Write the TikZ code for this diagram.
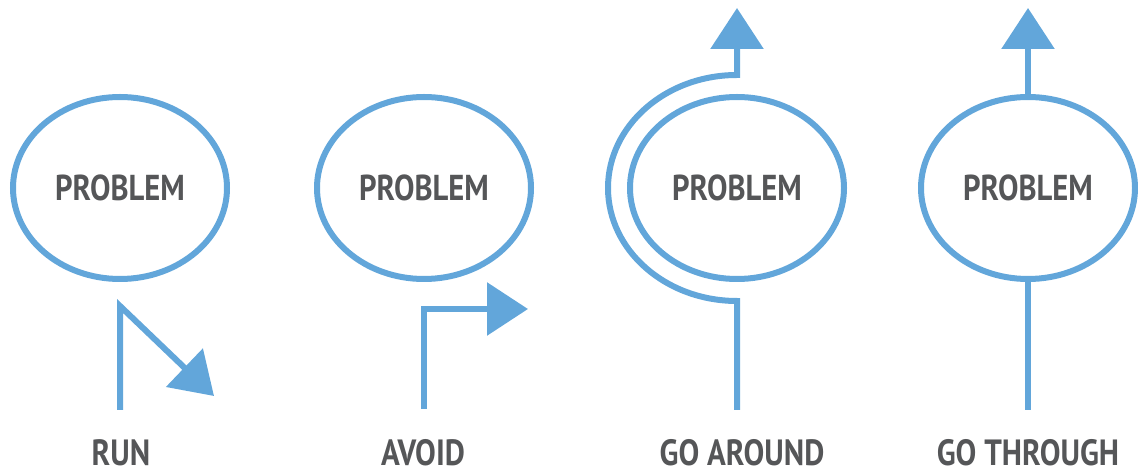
\documentclass[tikz,border=0pt]{standalone}
\usepackage{fontspec}
\setmainfont{PT Sans}[FakeStretch=0.85]
\usetikzlibrary{arrows.meta,shapes.geometric,positioning}
\definecolor{pblue}{RGB}{98,166,218}
\definecolor{pgray}{RGB}{85,86,88}
\tikzset{
    problem/.style={
        ellipse,
        draw=pblue,
        line width=6pt,
        outer sep=0pt,
        inner sep=0pt,
        minimum width=214pt,
        minimum height=182pt,
        text=pgray,
        font=\bfseries\fontsize{36}{36}\selectfont
    },
    % blue line with a triangle head
    bluearrow/.style={
        line width=6pt,
        pblue,
        -{Triangle[length=41pt, width=52pt]}
    },
    blueline/.style={
        line width=6pt,
        pblue
    },
    tag/.style={
        anchor=base,
        inner sep=0pt,
        text depth=0pt,
        text=pgray,
        font=\bfseries\fontsize{36.5}{36.5}\selectfont
    }
}

\begin{document}
\begin{tikzpicture}[x=1pt,y=1pt]
	\useasboundingbox (0,0) rectangle (1138,471);

	% ===================== RUN =====================
	\node[problem] (p1) at (120,283) {PROBLEM};
	\path
	(120,61) coordinate (r0)
	(120,165) coordinate (r1)
	(214,75) coordinate (r2);
	\draw[bluearrow] (r0) -- (r1) -- (r2);
	\node[tag] (t1) at (121,5) {RUN};

	% ===================== AVOID =====================
	\node[problem] (p2) at (424,283) {PROBLEM};
	\path
	(424,62) coordinate (a0)
	(424,162) coordinate (a1)
	(528,162) coordinate (a2);
	\draw[bluearrow] (a0) -- (a1) -- (a2);
	\node[tag] (t2) at (423,5) {AVOID};

	% ===================== GO AROUND =====================
	\node[problem] (p3) at (737,283) {PROBLEM};
	\path
	(737,61) coordinate (g0)
	(737,170) coordinate (g1)
	(737,463) coordinate (g2);
	\draw[bluearrow] (g0) -- (g1) arc[start angle=270, end angle=90, x radius=129, y radius=113] -- (g2);
	\node[tag] (t3) at (742,5) {GO AROUND};

	% ===================== GO THROUGH =====================
	\node[problem] (p4) at (1028,283) {PROBLEM};
	\path
	(1028,61) coordinate (h0)
	(1028,463) coordinate (h1);
	\draw[blueline] (h0) -- (p4.south);
	\draw[bluearrow] (p4.north) -- (h1);
	\node[tag] (t4) at (1028,5) {GO THROUGH};
\end{tikzpicture}
\end{document}
